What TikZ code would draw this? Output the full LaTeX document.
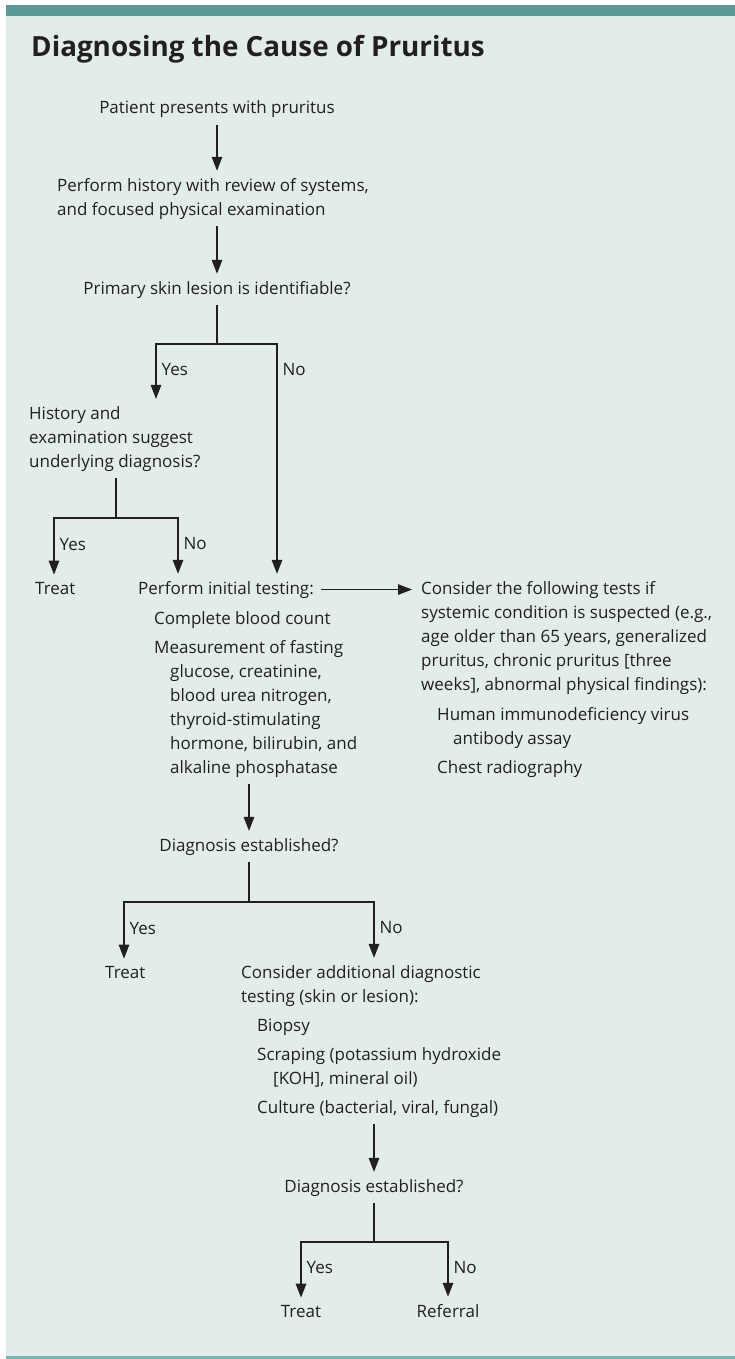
\documentclass[tikz,border=0pt]{standalone}
\usepackage{fontspec}
\setmainfont{Open Sans}
\usepackage{tikz}
\usetikzlibrary{arrows.meta}
\definecolor{boxbg}{HTML}{E2ECEB}
\definecolor{boxbar}{HTML}{5A9A97}
\definecolor{boxrule}{HTML}{7BB5B1}
\definecolor{ink}{HTML}{231F20}
\newcommand{\ind}{\hspace*{16pt}}

\begin{document}
\begin{tikzpicture}[x=1pt, y=-1pt,
		txt/.style={anchor=base west, align=left, inner xsep=0pt, inner ysep=7pt, text=ink, font=\fontsize{17}{24}\selectfont},
		ctxt/.style={txt, anchor=base, align=center},
		answer/.style={anchor=west, inner xsep=5pt, inner ysep=0pt, text height=12pt, text depth=4pt, text=ink, font=\fontsize{17}{24}\selectfont},
		line/.style={draw=ink, line width=1.3pt},
		flow/.style={line, -{Triangle[length=14pt, width=10.5pt]}}]
		\useasboundingbox (0, 0) rectangle (735, 1359);
		\fill[boxbg] (6, 5) rectangle (735, 1357);
		\fill[boxbar] (6, 5) rectangle (735, 16);
		\fill[boxrule] (6, 1356) rectangle (735, 1358.5);
		
		\node (title) at (31, 57) [anchor=base west, inner sep=0pt, text=ink, font=\bfseries\fontsize{27.8}{32}\selectfont] {Diagnosing the Cause of Pruritus};
		
		\node (patient) at (217, 114) [ctxt] {Patient presents with pruritus};
		\node (history) at (57, 215) [txt] {Perform history with review of systems,\\and focused physical examination};
		\node (primary) at (217, 294) [ctxt] {Primary skin lesion is identifiable?};
		\node (hist) at (29, 467) [txt] {History and\\examination suggest\\underlying diagnosis?};
		\node (treat1) at (35, 594) [txt] {Treat};
		\node (initial) at (138, 594) [txt] {Perform initial testing:};
		\node (basic) at (154, 773) [txt] {Complete blood count\\[5pt]Measurement of fasting\\\ind glucose, creatinine,\\\ind blood urea nitrogen,\\\ind thyroid-stimulating\\\ind hormone, bilirubin, and\\\ind alkaline phosphatase};
		\node (consider) at (421, 773) [txt] {Consider the following tests if\\systemic condition is suspected (e.g.,\\age older than 65 years, generalized\\pruritus, chronic pruritus [three\\weeks], abnormal physical findings):\\[6pt]\ind Human immunodeficiency virus\\\ind\ind antibody assay\\[5pt]\ind Chest radiography};
		\node (diag1) at (249, 851) [ctxt] {Diagnosis established?};
		\node (treat2) at (105, 978) [txt] {Treat};
		\node (additional) at (241, 1113) [txt] {Consider additional diagnostic\\testing (skin or lesion):\\[5pt]\ind Biopsy\\[5pt]\ind Scraping (potassium hydroxide\\\ind\ind [KOH], mineral oil)\\[5pt]\ind Culture (bacterial, viral, fungal)};
		\node (diag2) at (374, 1192) [ctxt] {Diagnosis established?};
		\node (treat3) at (301, 1317) [ctxt] {Treat};
		\node (referral) at (448, 1317) [ctxt] {Referral};
		
		\coordinate (fork1) at (217, 344);
		\coordinate (fork1y) at (156, 344);
		\coordinate (fork1n) at (277, 344);
		\coordinate (fork2) at (116, 518);
		\coordinate (fork2y) at (54, 518);
		\coordinate (fork2n) at (178, 518);
		\coordinate (fork3) at (249, 902);
		\coordinate (fork3y) at (124, 902);
		\coordinate (fork3n) at (374, 902);
		\coordinate (fork4) at (374, 1242);
		\coordinate (fork4y) at (301, 1242);
		\coordinate (fork4n) at (448, 1242);
		
		\draw[flow] (patient) -- (history.north -| patient);
		\draw[flow] (history.south -| patient) -- (primary);
		\draw[line] (primary) -- (fork1);
		\draw[flow] (fork1) -- (fork1y) -- node[answer] {Yes} (fork1y |- hist.north);
		\draw[flow] (fork1) -- (fork1n) -- node[answer, pos=0.12] {No} (fork1n |- initial.north);
		\draw[line] (hist.south -| fork2) -- (fork2);
		\draw[flow] (fork2) -- (fork2y) -- node[answer] {Yes} (fork2y |- treat1.north);
		\draw[flow] (fork2) -- (fork2n) -- node[answer] {No} (fork2n |- initial.north);
		\draw[flow, shorten <=7pt, shorten >=9pt] (initial.east) -- (initial.east -| consider.west);
		\draw[flow] (basic.south -| diag1) -- (diag1);
		\draw[line] (diag1) -- (fork3);
		\draw[flow] (fork3) -- (fork3y) -- node[answer] {Yes} (fork3y |- treat2.north);
		\draw[flow] (fork3) -- (fork3n) -- node[answer] {No} (fork3n |- additional.north);
		\draw[flow] (additional.south -| diag2) -- (diag2);
		\draw[line] (diag2) -- (fork4);
		\draw[flow] (fork4) -- (fork4y) -- node[answer] {Yes} (treat3);
		\draw[flow] (fork4) -- (fork4n) -- node[answer] {No} (referral);
		
	\end{tikzpicture}
\end{document}
